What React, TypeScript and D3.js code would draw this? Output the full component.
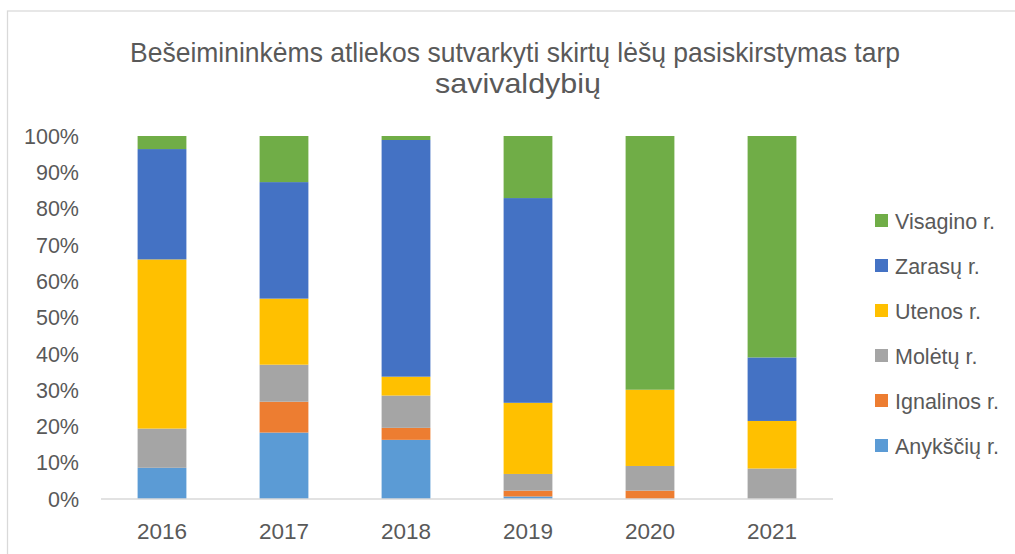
import React, { useRef, useEffect } from 'react';
import * as d3 from 'd3';

// shares per year, in percent
const years = ['2016', '2017', '2018', '2019', '2020', '2021'];
const seriesNames = ['Anykščių r.', 'Ignalinos r.', 'Molėtų r.', 'Utenos r.', 'Zarasų r.', 'Visagino r.'];
const anyksciu = [8.6, 18.3, 16.3, 0.7, 0, 0];
const ignalinos = [0, 8.5, 3.3, 1.6, 2.3, 0];
const moletu = [10.8, 10.2, 8.9, 4.6, 6.8, 8.4];
const utenos = [46.6, 18.2, 5.2, 19.6, 21.0, 13.1];
const zarasu = [30.4, 32.1, 65.2, 56.4, 0, 17.5];
const visagino = [3.6, 12.7, 1.1, 17.1, 69.9, 61.0];
const yTicks = [0, 10, 20, 30, 40, 50, 60, 70, 80, 90, 100];
const colors = ['#5B9BD5', '#ED7D31', '#A5A5A5', '#FFC000', '#4472C4', '#70AD47'];
const titleLines = [
  'Bešeimininkėms atliekos sutvarkyti skirtų lėšų pasiskirstymas tarp',
  'savivaldybių',
];

const W = 1015;
const H = 554;
const FONT = "'Liberation Sans', Arial, sans-serif";
const TEXT = '#595959';

const App: React.FC = () => {
  const svgRef = useRef<SVGSVGElement | null>(null);

  useEffect(() => {
    const svg = d3.select(svgRef.current);
    svg.selectAll('*').remove();

    const plot = { left: 101, right: 833, top: 136, bottom: 499 };

    // chart area border (Excel frame, cut on the right and bottom)
    svg.append('rect')
      .attr('x', 7.5).attr('y', 11)
      .attr('width', W + 20).attr('height', H + 20)
      .attr('fill', 'white')
      .attr('stroke', '#d9d9d9')
      .attr('stroke-width', 1.25);

    // title (the original is squeezed horizontally)
    svg.append('text')
      .attr('x', 130).attr('y', 62)
      .attr('textLength', 770)
      .attr('lengthAdjust', 'spacingAndGlyphs')
      .attr('font-family', FONT).attr('font-size', 28)
      .attr('fill', TEXT)
      .text(titleLines[0]);
    svg.append('text')
      .attr('x', 435).attr('y', 93)
      .attr('textLength', 166)
      .attr('lengthAdjust', 'spacingAndGlyphs')
      .attr('font-family', FONT).attr('font-size', 28)
      .attr('fill', TEXT)
      .text(titleLines[1]);

    const rows = years.map((year, i) => ({
      year,
      'Anykščių r.': anyksciu[i],
      'Ignalinos r.': ignalinos[i],
      'Molėtų r.': moletu[i],
      'Utenos r.': utenos[i],
      'Zarasų r.': zarasu[i],
      'Visagino r.': visagino[i],
    }));

    const stacked = d3.stack<any>()
      .keys(seriesNames)
      .offset(d3.stackOffsetExpand)(rows);

    const x = d3.scaleBand()
      .domain(years)
      .range([plot.left, plot.right])
      .paddingInner(0.6)
      .paddingOuter(0.3);

    const y = d3.scaleLinear().domain([0, 1]).range([plot.bottom, plot.top]);

    // y tick labels
    svg.append('g')
      .selectAll('text')
      .data(yTicks)
      .enter()
      .append('text')
      .attr('x', 79)
      .attr('y', d => y(d / 100))
      .attr('dy', '0.36em')
      .attr('text-anchor', 'end')
      .attr('font-family', FONT).attr('font-size', 21.5)
      .attr('fill', TEXT)
      .text(d => `${d}%`);

    // bars
    svg.append('g')
      .selectAll('g')
      .data(stacked)
      .enter()
      .append('g')
      .attr('fill', (d, i) => colors[i])
      .selectAll('rect')
      .data(d => d)
      .enter()
      .append('rect')
      .attr('x', d => x(d.data.year) as number)
      .attr('y', d => y(d[1]))
      .attr('width', x.bandwidth())
      .attr('height', d => y(d[0]) - y(d[1]));

    // x axis line
    svg.append('line')
      .attr('x1', plot.left).attr('x2', plot.right)
      .attr('y1', plot.bottom).attr('y2', plot.bottom)
      .attr('stroke', '#d9d9d9')
      .attr('stroke-width', 1.5);

    // x labels
    svg.append('g')
      .selectAll('text')
      .data(years)
      .enter()
      .append('text')
      .attr('x', d => (x(d) as number) + x.bandwidth() / 2)
      .attr('y', 539)
      .attr('text-anchor', 'middle')
      .attr('font-family', FONT).attr('font-size', 22.5)
      .attr('fill', TEXT)
      .text(d => d);

    // legend, top entry is the last series
    const legend = svg.append('g')
      .selectAll('g')
      .data(seriesNames.slice().reverse())
      .enter()
      .append('g')
      .attr('transform', (d, i) => `translate(875, ${221 + i * 45})`);

    legend.append('rect')
      .attr('x', 0).attr('y', -7)
      .attr('width', 13).attr('height', 13)
      .attr('fill', d => colors[seriesNames.indexOf(d)]);

    legend.append('text')
      .attr('x', 20)
      .attr('y', 0)
      .attr('dy', '0.36em')
      .attr('font-family', FONT).attr('font-size', 21.5)
      .attr('fill', TEXT)
      .text(d => d);
  }, []);

  return (
    <svg
      ref={svgRef}
      width={W}
      height={H}
      style={{ position: 'absolute', left: 0, top: 0, display: 'block' }}
    />
  );
};

export default App;
